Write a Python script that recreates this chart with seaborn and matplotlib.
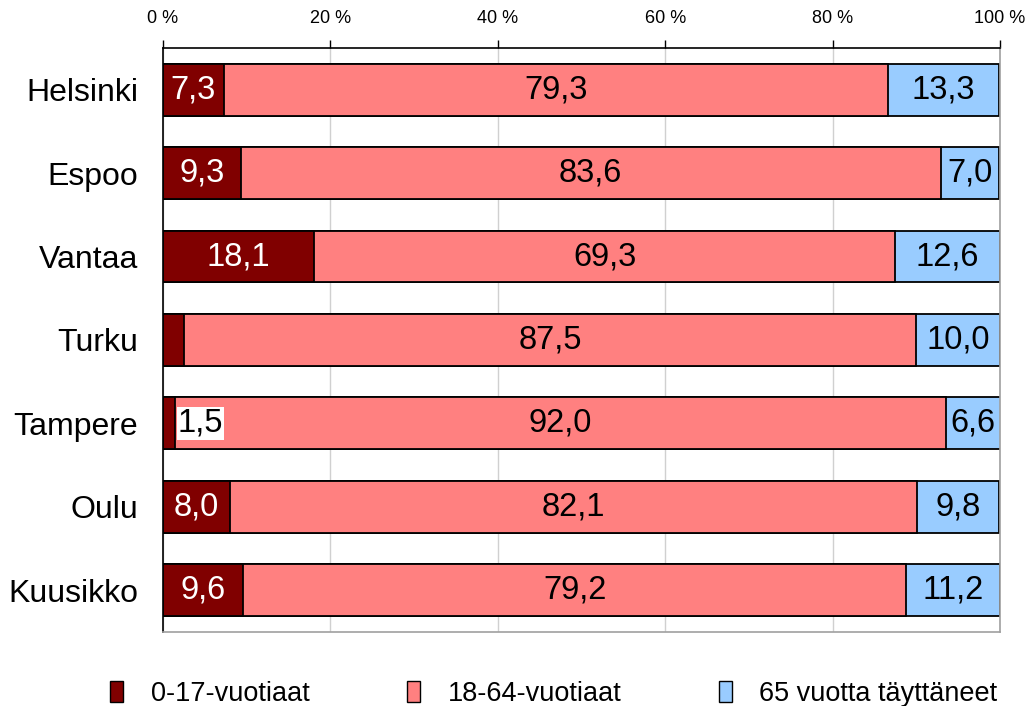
import numpy as np
import pandas as pd
import seaborn as sns
import matplotlib.pyplot as plt
from matplotlib.patches import Patch
from matplotlib.ticker import FixedLocator

cities = ['Helsinki', 'Espoo', 'Vantaa', 'Turku', 'Tampere', 'Oulu', 'Kuusikko']
young = [7.3, 9.3, 18.1, 2.5, 1.5, 8.0, 9.6]
working = [79.3, 83.6, 69.3, 87.5, 92.0, 82.1, 79.2]
old = [13.3, 7.0, 12.6, 10.0, 6.6, 9.8, 11.2]
groups = ['0-17-vuotiaat', '18-64-vuotiaat', '65 vuotta täyttäneet']
colors = ['#800000', '#FF8080', '#99CCFF']

df = pd.DataFrame({'city': cities, 'young': young, 'working': working, 'old': old})
df['c1'] = df['young']
df['c2'] = df['young'] + df['working']
df['c3'] = df['c2'] + df['old']

sns.set_style('white')
plt.rcParams['font.family'] = ['Liberation Sans', 'DejaVu Sans']
plt.rcParams['text.color'] = 'black'
plt.rcParams['xtick.color'] = 'black'
plt.rcParams['ytick.color'] = 'black'

fig = plt.figure(figsize=(10.31, 7.06), dpi=100)
ax = fig.add_axes([0.158, 0.105, 0.812, 0.827])

# stacked bars drawn as overlapping cumulative bars
for col, c in zip(['c3', 'c2', 'c1'], colors[::-1]):
    sns.barplot(data=df, x=col, y='city', color=c, saturation=1,
                edgecolor='black', linewidth=1.3, width=0.62, ax=ax)

# value labels
for i, row in df.iterrows():
    segs = [(0, row['young']), (row['c1'], row['working']), (row['c2'], row['old'])]
    for k, (start, w) in enumerate(segs):
        if k == 0 and row['city'] == 'Turku':
            continue
        txt = f'{w:.1f}'.replace('.', ',')
        if k == 0 and w < 3:
            ax.text(start + w + 0.3, i, txt, ha='left', va='center', fontsize=23.5,
                    color='black', bbox=dict(facecolor='white', edgecolor='none', pad=0.5))
        else:
            ax.text(start + w / 2, i, txt, ha='center', va='center', fontsize=23.5,
                    color='white' if k == 0 else 'black')

ax.set_xlim(0, 100)
ax.set_ylim(6.5, -0.5)
ax.xaxis.tick_top()
ax.set_xticks([0, 20, 40, 60, 80, 100])
ax.set_xticklabels([f'{t} %' for t in [0, 20, 40, 60, 80, 100]], fontsize=13)
ax.tick_params(axis='x', direction='out', length=6, width=1, pad=9)
ax.tick_params(axis='y', which='major', length=0, pad=18, labelsize=23)
ax.yaxis.set_minor_locator(FixedLocator(np.arange(-0.5, 7, 1)))
ax.tick_params(axis='y', which='minor', direction='out', length=7, width=1)
ax.set_xlabel('')
ax.set_ylabel('')
ax.grid(axis='x', color='#D0D0D0', linewidth=1)
ax.set_axisbelow(True)
for s in ['top', 'left']:
    ax.spines[s].set_color('black')
    ax.spines[s].set_linewidth(1.2)
for s in ['right', 'bottom']:
    ax.spines[s].set_color('#A0A0A0')
    ax.spines[s].set_linewidth(1.2)

handles = [Patch(facecolor=c, edgecolor='black', linewidth=1) for c in colors]
fig.legend(handles, groups, loc='lower center', bbox_to_anchor=(0.537, -0.036), ncol=3,
           frameon=False, fontsize=19.5, handlelength=0.5, handleheight=0.8,
           handletextpad=1.0, columnspacing=3.6)

fig.savefig('out.png', dpi=100)
